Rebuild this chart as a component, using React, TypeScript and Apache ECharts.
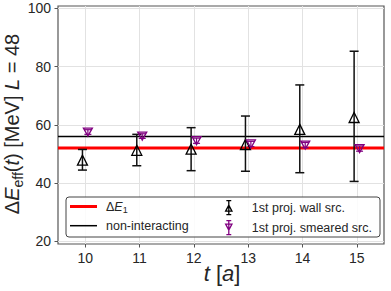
import React, { useEffect, useRef } from 'react';
import * as echarts from 'echarts';

const tValues = [10, 11, 12, 13, 14, 15];
const wallCentral = [47.8, 51.2, 51.6, 53.2, 58.4, 62.5];
const wallLow = [44.4, 45.9, 44.2, 44.0, 43.5, 40.5];
const wallHigh = [51.5, 56.7, 59.0, 63.0, 73.7, 85.3];
const smearCentral = [57.5, 56.1, 54.5, 53.4, 53.0, 51.8];
const smearLow = [56.7, 55.3, 53.6, 52.5, 52.1, 50.9];
const smearHigh = [58.3, 56.9, 55.4, 54.3, 53.9, 52.7];
const deltaE1 = 52.0;
const nonInteracting = 56.0;
const xTicks = [10, 11, 12, 13, 14, 15];
const yTicks = [20, 40, 60, 80, 100];
const xRange = [9.5, 15.5];
const yRange = [18.97, 100.86];
const shift = 0.05;

const FONT = 'Liberation Sans';
const PURPLE = '#800080';

function errorBars(name: string, xs: number[], lo: number[], hi: number[], color: string, cap: number, lw: number) {
  return {
    type: 'custom',
    name,
    data: xs.map((x, i) => [x, lo[i], hi[i]]),
    encode: { x: 0, y: [1, 2] },
    z: 3,
    renderItem: (_p: any, api: any) => {
      const x = api.value(0);
      const a = api.coord([x, api.value(1)]);
      const b = api.coord([x, api.value(2)]);
      const st = { stroke: color, lineWidth: lw };
      return {
        type: 'group',
        children: [
          { type: 'line', shape: { x1: a[0], y1: a[1], x2: b[0], y2: b[1] }, style: st },
          { type: 'line', shape: { x1: a[0] - cap, y1: a[1], x2: a[0] + cap, y2: a[1] }, style: st },
          { type: 'line', shape: { x1: b[0] - cap, y1: b[1], x2: b[0] + cap, y2: b[1] }, style: st },
        ],
      };
    },
  };
}

export default function App() {
  const ref = useRef<HTMLDivElement>(null);
  useEffect(() => {
    if (!ref.current) return;
    const chart = echarts.init(ref.current, null, { renderer: 'svg' });
    const wallX = tValues.map((t) => t - shift);
    const smearX = tValues.map((t) => t + shift);
    const option: any = {
      animation: false,
      backgroundColor: '#fff',
      textStyle: { fontFamily: FONT },
      grid: {
        left: 58, top: 6, width: 326, height: 238,
        show: true, borderColor: '#555', borderWidth: 1.2, backgroundColor: '#fff',
      },
      xAxis: {
        type: 'value', min: xRange[0], max: xRange[1],
        axisLine: { show: false },
        axisTick: { show: true, length: 3.5, customValues: xTicks, lineStyle: { color: '#555' } },
        axisLabel: { customValues: xTicks, margin: 7, fontSize: 14, color: '#262626', fontFamily: FONT },
        splitLine: { show: true, lineStyle: { color: '#e2e2e2', width: 1 } },
      },
      yAxis: {
        type: 'value', min: yRange[0], max: yRange[1],
        axisLine: { show: false },
        axisTick: { show: true, length: 3.5, customValues: yTicks, lineStyle: { color: '#555' } },
        axisLabel: { customValues: yTicks, margin: 7, fontSize: 14, color: '#262626', fontFamily: FONT },
        splitLine: { show: true, lineStyle: { color: '#e2e2e2', width: 1 } },
      },
      graphic: [
        {
          type: 'rect', z: 50, zlevel: 0,
          shape: { x: 66, y: 197, width: 314, height: 40, r: 3 },
          style: { fill: 'rgba(255,255,255,0.85)', stroke: '#444', lineWidth: 1 },
        },
        {
          type: 'text', x: 12, y: 124, rotation: Math.PI / 2, z: 60,
          style: {
            text: '{a|Δ}{i|E}{s|eff}{a|(}{i|t}{a|) [MeV] }{i|L}{a| = 48}',
            align: 'center', verticalAlign: 'middle', fill: '#262626',
            rich: {
              a: { fontSize: 20, fontFamily: FONT, lineHeight: 25, verticalAlign: 'middle', fill: '#262626' },
              i: { fontSize: 20, fontFamily: FONT, fontStyle: 'italic', lineHeight: 25, verticalAlign: 'middle', fill: '#262626' },
              s: { fontSize: 14, fontFamily: FONT, verticalAlign: 'bottom', fill: '#262626' },
            },
          },
        },
        {
          type: 'text', x: 222, y: 273, z: 60,
          style: {
            text: '{i|t}{a| [}{i|a}{a|]}',
            align: 'center', verticalAlign: 'middle',
            rich: {
              a: { fontSize: 22, fontFamily: FONT, fill: '#262626' },
              i: { fontSize: 22, fontFamily: FONT, fontStyle: 'italic', fill: '#262626' },
            },
          },
        },
      ],
      legend: [
        {
          orient: 'vertical', left: 70, top: 200, padding: 0, itemGap: 4.7,
          itemWidth: 27, itemHeight: 14, z: 100,
          data: [
            { name: 'ΔE1', icon: 'path://M0,0 L27,0 L27,3 L0,3 Z', itemStyle: { color: '#ff0000', borderWidth: 0 } },
            { name: 'non-interacting', icon: 'path://M0,0 L27,0 L27,1.5 L0,1.5 Z', itemStyle: { color: '#000', borderWidth: 0 } },
          ],
          formatter: (n: string) => (n === 'ΔE1' ? '{a|Δ}{i|E}{s|1}' : '{a|' + n + '}'),
          textStyle: {
            fontSize: 12.5, color: '#262626', fontFamily: FONT, padding: [0, 0, 0, 4],
            rich: {
              a: { fontSize: 12.5, fontFamily: FONT, color: '#262626', lineHeight: 16, verticalAlign: 'middle' },
              i: { fontSize: 12.5, fontFamily: FONT, fontStyle: 'italic', color: '#262626', lineHeight: 16, verticalAlign: 'middle' },
              s: { fontSize: 9, fontFamily: FONT, color: '#262626', verticalAlign: 'bottom' },
            },
          },
        },
        {
          orient: 'vertical', left: 225, top: 200, padding: 0, itemGap: 4.7,
          itemWidth: 36, itemHeight: 14, z: 100,
          data: [
            {
              name: '1st proj. wall src.',
              icon: 'path://M5,0 L5,20 M1.5,0 L8.5,0 M1.5,20 L8.5,20 M0.5,15 L5,6.5 L9.5,15 Z',
              itemStyle: { color: 'transparent', borderColor: '#000', borderWidth: 1.3 },
            },
            {
              name: '1st proj. smeared src.',
              icon: 'path://M5,0 L5,20 M1.5,0 L8.5,0 M1.5,20 L8.5,20 M0.5,5 L5,13.5 L9.5,5 Z',
              itemStyle: { color: 'transparent', borderColor: PURPLE, borderWidth: 1.3 },
            },
          ],
          textStyle: { fontSize: 12.5, color: '#262626', fontFamily: FONT },
        },
      ],
      series: [
        {
          type: 'line', name: 'ΔE1', data: [[xRange[0], deltaE1], [xRange[1], deltaE1]],
          symbol: 'none', lineStyle: { color: '#ff0000', width: 3 }, itemStyle: { color: '#ff0000' }, z: 2,
        },
        {
          type: 'line', name: 'non-interacting', data: [[xRange[0], nonInteracting], [xRange[1], nonInteracting]],
          symbol: 'none', lineStyle: { color: '#000', width: 1.5 }, itemStyle: { color: '#000' }, z: 2,
        },
        errorBars('wallErr', wallX, wallLow, wallHigh, '#111', 4.5, 1.5),
        errorBars('smearErr', smearX, smearLow, smearHigh, PURPLE, 3.5, 1.2),
        {
          type: 'scatter', name: '1st proj. wall src.',
          data: wallX.map((x, i) => [x, wallCentral[i]]),
          symbol: 'triangle', symbolSize: [10, 10],
          itemStyle: { color: 'transparent', borderColor: '#000', borderWidth: 1.3, opacity: 1 },
          z: 4,
        },
        {
          type: 'scatter', name: '1st proj. smeared src.',
          data: smearX.map((x, i) => [x, smearCentral[i]]),
          symbol: 'triangle', symbolRotate: 180, symbolSize: [9, 8],
          itemStyle: { color: 'transparent', borderColor: PURPLE, borderWidth: 1.3, opacity: 1 },
          z: 4,
        },
      ],
    };
    chart.setOption(option);
    return () => chart.dispose();
  }, []);
  return <div ref={ref} style={{ width: 391, height: 291, position: 'absolute', left: 0, top: 0 }} />;
}
